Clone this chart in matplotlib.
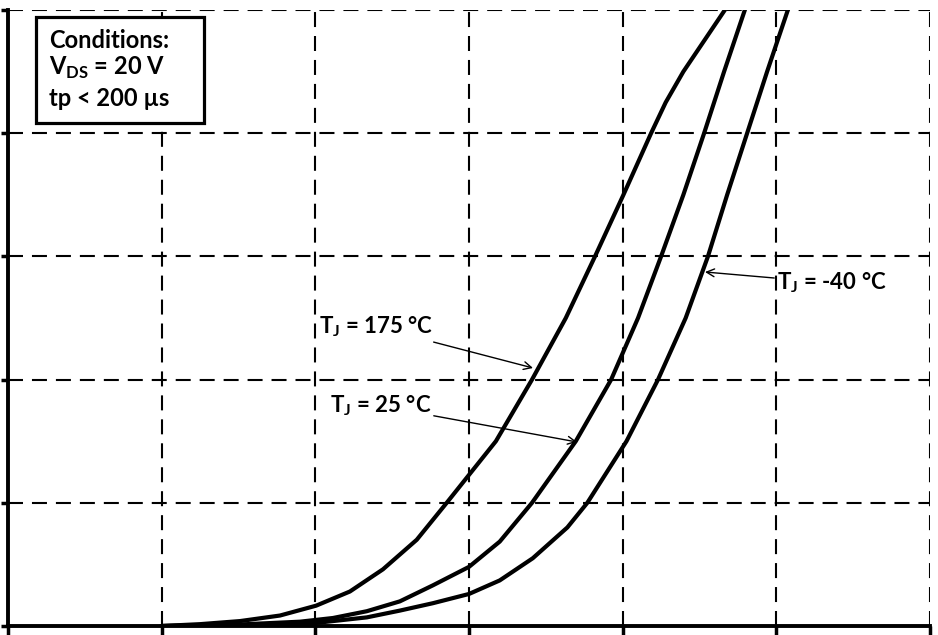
import matplotlib
matplotlib.use("Agg")
import matplotlib.pyplot as plt

# Gate-source voltage (V) and drain current (A)
vgs_175 = [2.00, 2.50, 3.02, 3.54, 4.01, 4.45, 4.88, 5.32, 5.71, 6.35, 6.82, 7.26,
           7.64, 8.01, 8.37, 8.56, 8.79, 9.06, 9.33, 9.48]
id_175 = [0.0, 0.3, 0.8, 1.7, 3.3, 5.6, 9.2, 14.0, 20.0, 30.0, 40.0, 50.0,
          60.0, 70.0, 80.0, 85.0, 90.0, 95.0, 100.0, 102.4]

vgs_25 = [2.00, 3.02, 3.80, 4.23, 4.67, 5.10, 5.53, 6.00, 6.40, 6.82, 7.39, 7.85,
          8.20, 8.50, 8.79, 9.06, 9.32, 9.59, 9.65]
id_25 = [0.0, 0.25, 0.7, 1.3, 2.4, 4.0, 6.6, 9.6, 13.7, 20.0, 30.0, 40.0,
         50.0, 60.0, 70.0, 80.0, 90.0, 100.0, 102.4]

vgs_m40 = [2.00, 3.15, 4.01, 4.67, 5.10, 5.53, 6.00, 6.40, 6.83, 7.28, 7.54, 8.05,
           8.46, 8.82, 9.11, 9.36, 9.62, 9.88, 10.15, 10.20]
id_m40 = [0.0, 0.15, 0.5, 1.4, 2.5, 3.7, 5.2, 7.4, 11.0, 16.0, 20.0, 30.0,
          40.0, 50.0, 60.0, 70.0, 80.0, 90.0, 100.0, 102.4]

x_ticks = [0, 2, 4, 6, 8, 10, 12]
y_ticks = [0, 20, 40, 60, 80, 100]

plt.rcParams['font.family'] = ['Lato', 'DejaVu Sans']
plt.rcParams['mathtext.fontset'] = 'custom'
plt.rcParams['mathtext.rm'] = 'Lato:bold'
plt.rcParams['mathtext.bf'] = 'Lato:bold'

fig = plt.figure(figsize=(9.38, 6.35), dpi=100)
ax = fig.add_axes([8/938, 1-626/635, (930-8)/938, (626-10)/635])

ax.set_xlim(0, 12)
ax.set_ylim(0, 100)
ax.set_xticks(x_ticks)
ax.set_yticks(y_ticks)
ax.set_xticklabels([])
ax.set_yticklabels([])

ax.grid(True, color='black', linewidth=1.5, linestyle=(0, (7.2, 4.3)))
ax.set_axisbelow(True)
for s in ['top', 'right']:
    ax.spines[s].set_visible(False)
for s in ['left', 'bottom']:
    ax.spines[s].set_linewidth(2.8)
ax.tick_params(axis='y', direction='out', length=5, width=2.5)
ax.tick_params(axis='x', direction='out', length=7, width=2.5)

for xs, ys in [(vgs_175, id_175), (vgs_25, id_25), (vgs_m40, id_m40)]:
    ax.plot(xs, ys, color='black', linewidth=3.0, solid_capstyle='round',
            solid_joinstyle='round', zorder=3)

fs = 16
arrow = dict(arrowstyle='->', color='black', lw=1.0, shrinkA=0, shrinkB=0,
             mutation_scale=14)

def px(xp, yp):
    return (12 * (xp - 8) / 922, 100 * (626 - yp) / 616)

ax.annotate(r'T$_\mathregular{J}$ = 175 °C', xy=px(533, 368), xytext=px(433, 327),
            ha='right', va='center', fontsize=fs, fontweight='bold',
            arrowprops=arrow, zorder=4)
ax.annotate(r'T$_\mathregular{J}$ = 25 °C', xy=px(577, 442), xytext=px(431, 406),
            ha='right', va='center', fontsize=fs, fontweight='bold',
            arrowprops=arrow, zorder=4)
ax.annotate(r'T$_\mathregular{J}$ = -40 °C', xy=px(705, 272), xytext=px(777, 283),
            ha='left', va='center', fontsize=fs, fontweight='bold',
            arrowprops=arrow, zorder=4)

# Conditions box
box_x0, box_y0 = 36/938, 1-123/635
box = plt.Rectangle((box_x0, box_y0), (204-36)/938, (123-17)/635,
                    transform=fig.transFigure, facecolor='white',
                    edgecolor='black', linewidth=2.3, zorder=5)
fig.patches.append(box)
fig.text(49/938, 1-40/635, 'Conditions:', fontsize=fs + 1, fontweight='bold',
         va='center', ha='left', zorder=6)
fig.text(49/938, 1-68/635, r'V$_\mathregular{DS}$ = 20 V', fontsize=fs + 1, fontweight='bold',
         va='center', ha='left', zorder=6)
fig.text(49/938, 1-98/635, 'tp < 200 µs', fontsize=fs + 1, fontweight='bold',
         va='center', ha='left', zorder=6)

fig.savefig('out.png', dpi=100)
